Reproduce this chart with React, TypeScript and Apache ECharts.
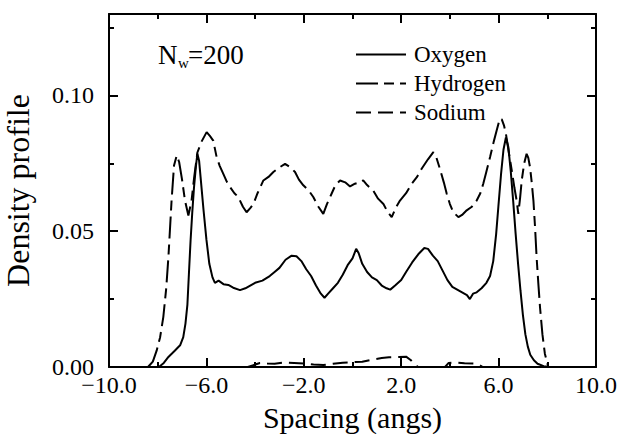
import React, { useEffect, useRef } from "react";
import * as echarts from "echarts";

const FONT = '"Liberation Serif", "Times New Roman", serif';

const seriesNames = ["Oxygen", "Hydrogen", "Sodium"];
const xTickLabels = ["\u221210.0", "\u22126.0", "\u22122.0", "2.0", "6.0", "10.0"];
const yTickLabels = ["0.00", "0.05", "0.10"];

const oxygen: number[][] = [
  [-7.95, 0], [-7.75, 0.0015], [-7.56, 0.0037], [-7.3, 0.006], [-7.08, 0.008], [-6.95, 0.011],
  [-6.86, 0.016], [-6.78, 0.023], [-6.72, 0.034], [-6.65, 0.0466], [-6.58, 0.057], [-6.51, 0.066],
  [-6.43, 0.074], [-6.37, 0.0785], [-6.3, 0.076], [-6.24, 0.070], [-6.12, 0.058], [-6.0, 0.047],
  [-5.88, 0.038], [-5.75, 0.033], [-5.65, 0.031], [-5.5, 0.0318], [-5.3, 0.0305], [-5.1, 0.0302],
  [-4.9, 0.0292], [-4.62, 0.0283], [-4.4, 0.029], [-4.2, 0.030], [-4.0, 0.031], [-3.7, 0.0318],
  [-3.4, 0.0335], [-3.2, 0.035], [-3.0, 0.0365], [-2.75, 0.0395], [-2.5, 0.041], [-2.3, 0.0408],
  [-2.1, 0.039], [-1.9, 0.036], [-1.7, 0.0335], [-1.5, 0.030], [-1.3, 0.027], [-1.15, 0.0255],
  [-1.0, 0.027], [-0.8, 0.029], [-0.6, 0.031], [-0.4, 0.034], [-0.2, 0.0375], [0.0, 0.040],
  [0.15, 0.0435], [0.25, 0.042], [0.4, 0.038], [0.6, 0.035], [0.8, 0.033], [1.0, 0.032],
  [1.2, 0.030], [1.4, 0.029], [1.55, 0.0285], [1.75, 0.030], [2.0, 0.032], [2.2, 0.035],
  [2.45, 0.0385], [2.7, 0.0415], [2.95, 0.0438], [3.1, 0.0435], [3.3, 0.041], [3.5, 0.039],
  [3.7, 0.0355], [3.9, 0.032], [4.1, 0.0295], [4.3, 0.0285], [4.5, 0.0275], [4.7, 0.0265],
  [4.82, 0.025], [4.95, 0.027], [5.1, 0.0275], [5.3, 0.029], [5.5, 0.031], [5.65, 0.0335],
  [5.78, 0.039], [5.9, 0.049], [5.99, 0.059], [6.1, 0.071], [6.2, 0.080], [6.3, 0.0845],
  [6.4, 0.081], [6.5, 0.072], [6.6, 0.061], [6.7, 0.049], [6.8, 0.038], [6.9, 0.028],
  [7.0, 0.019], [7.1, 0.012], [7.2, 0.0075], [7.3, 0.0045], [7.45, 0.0025], [7.6, 0.0012],
  [7.85, 0.0003], [8.1, 0],
];

const hydrogen: number[][] = [
  [-8.4, 0], [-8.2, 0.002], [-8.04, 0.0061], [-7.9, 0.011], [-7.77, 0.0184], [-7.65, 0.029],
  [-7.56, 0.0405], [-7.43, 0.0613], [-7.33, 0.0742], [-7.22, 0.0779], [-7.12, 0.0755], [-7.0, 0.069],
  [-6.88, 0.0613], [-6.74, 0.0558], [-6.61, 0.0613], [-6.5, 0.070], [-6.37, 0.079], [-6.2, 0.083],
  [-5.99, 0.0865], [-5.85, 0.085], [-5.72, 0.0834], [-5.58, 0.0773], [-5.45, 0.074], [-5.31, 0.0712],
  [-5.15, 0.068], [-5.03, 0.0663], [-4.85, 0.064], [-4.69, 0.0626], [-4.5, 0.059], [-4.35, 0.057],
  [-4.2, 0.0585], [-4.07, 0.060], [-3.9, 0.064], [-3.66, 0.0687], [-3.45, 0.070], [-3.25, 0.0718],
  [-3.0, 0.0735], [-2.77, 0.0748], [-2.55, 0.0735], [-2.36, 0.0718], [-2.2, 0.069], [-2.02, 0.0669],
  [-1.8, 0.065], [-1.61, 0.0626], [-1.4, 0.059], [-1.2, 0.0564], [-1.05, 0.060], [-0.86, 0.0638],
  [-0.7, 0.067], [-0.51, 0.0687], [-0.3, 0.068], [-0.1, 0.0665], [0.1, 0.0675], [0.3, 0.068],
  [0.44, 0.0687], [0.6, 0.067], [0.85, 0.065], [1.05, 0.062], [1.27, 0.060], [1.45, 0.057],
  [1.61, 0.0552], [1.8, 0.059], [1.95, 0.0613], [2.2, 0.064], [2.43, 0.0675], [2.65, 0.070],
  [2.84, 0.073], [3.1, 0.0765], [3.32, 0.0791], [3.45, 0.077], [3.59, 0.073], [3.75, 0.068],
  [3.87, 0.0638], [4.0, 0.060], [4.14, 0.057], [4.35, 0.0552], [4.5, 0.056], [4.69, 0.0577],
  [4.9, 0.059], [5.1, 0.0613], [5.25, 0.064], [5.37, 0.0675], [5.5, 0.072], [5.65, 0.0773],
  [5.8, 0.083], [5.92, 0.0871], [6.05, 0.0915], [6.13, 0.0912], [6.22, 0.089], [6.3, 0.0859],
  [6.42, 0.079], [6.54, 0.0724], [6.65, 0.066], [6.74, 0.0613], [6.81, 0.0564], [6.88, 0.062],
  [6.95, 0.0687], [7.05, 0.075], [7.15, 0.0785], [7.22, 0.077], [7.29, 0.0736], [7.36, 0.068],
  [7.43, 0.0613], [7.5, 0.051], [7.56, 0.0405], [7.63, 0.031], [7.7, 0.0221], [7.8, 0.012],
  [7.9, 0.0049], [8.04, 0],
];

const sodium: number[][] = [
  [-8.0, 0], [-4.3, 0], [-4.1, 0.0006], [-3.8, 0.0015], [-3.5, 0.0013], [-3.2, 0.0012],
  [-2.8, 0.0017], [-2.4, 0.0015], [-2.0, 0.0013], [-1.6, 0.0009], [-1.2, 0.0007], [-0.8, 0.0012],
  [-0.4, 0.0016], [0.0, 0.0018], [0.4, 0.0019], [0.8, 0.0027], [1.2, 0.0033], [1.5, 0.0036],
  [1.9, 0.0037], [2.2, 0.0038], [2.4, 0.0025], [2.55, 0.0008], [2.7, 0], [3.8, 0],
  [3.95, 0.0015], [4.2, 0.0017], [4.6, 0.0014], [5.0, 0.0013], [5.2, 0.0008], [5.35, 0], [8.0, 0],
];

const BLACK = "#000";

function axisCommon(extra: any) {
  return {
    type: "value",
    splitLine: { show: false },
    axisLine: { show: false, onZero: false, lineStyle: { color: BLACK, width: 2 } },
    axisTick: { show: true, inside: true, length: 5, lineStyle: { color: BLACK, width: 2 } },
    axisLabel: { show: false },
    ...extra,
  };
}

export default function App() {
  const ref = useRef<HTMLDivElement>(null);
  useEffect(() => {
    if (!ref.current) return;
    const chart = echarts.init(ref.current, undefined, { renderer: "svg" });
    const xBase = { min: -10, max: 10 };
    const yBase = { min: 0, max: 0.13 };
    const option: any = {
      animation: false,
      backgroundColor: "#fff",
      grid: { left: 109, right: 25, top: 14, bottom: 67, outerBoundsMode: "none" },
      xAxis: [
        axisCommon({
          ...xBase,
          interval: 4,
          position: "bottom",
          axisLine: { show: true, onZero: false, lineStyle: { color: BLACK, width: 2 } },
          axisTick: { show: true, inside: true, length: 9, lineStyle: { color: BLACK, width: 2 } },
          axisLabel: {
            show: true,
            margin: 6,
            fontFamily: FONT,
            fontSize: 24,
            color: BLACK,
            formatter: (v: number) => xTickLabels[Math.round((v + 10) / 4)] ?? "",
          },
          name: "Spacing (angs)",
          nameLocation: "middle",
          nameGap: 31,
          nameTextStyle: { fontFamily: FONT, fontSize: 30, color: BLACK, lineHeight: 32 },
        }),
        axisCommon({ ...xBase, interval: 2, position: "bottom" }),
        axisCommon({
          ...xBase,
          interval: 4,
          position: "top",
          axisLine: { show: true, onZero: false, lineStyle: { color: BLACK, width: 2 } },
          axisTick: { show: true, inside: true, length: 9, lineStyle: { color: BLACK, width: 2 } },
        }),
        axisCommon({ ...xBase, interval: 2, position: "top" }),
      ],
      yAxis: [
        axisCommon({
          ...yBase,
          interval: 0.05,
          position: "left",
          axisLine: { show: true, onZero: false, lineStyle: { color: BLACK, width: 2 } },
          axisTick: { show: true, inside: true, length: 9, lineStyle: { color: BLACK, width: 2 } },
          axisLabel: {
            show: true,
            margin: 15,
            fontFamily: FONT,
            fontSize: 24,
            color: BLACK,
            showMaxLabel: false,
            formatter: (v: number) => {
              const i = Math.round(v / 0.05);
              return Math.abs(v - i * 0.05) < 1e-6 ? yTickLabels[i] ?? "" : "";
            },
          },
          name: "Density profile",
          nameLocation: "middle",
          nameGap: 75,
          nameTextStyle: { fontFamily: FONT, fontSize: 32, color: BLACK },
        }),
        axisCommon({ ...yBase, interval: 0.025, position: "left" }),
        axisCommon({
          ...yBase,
          interval: 0.05,
          position: "right",
          axisLine: { show: true, onZero: false, lineStyle: { color: BLACK, width: 2 } },
          axisTick: { show: true, inside: true, length: 9, lineStyle: { color: BLACK, width: 2 } },
        }),
        axisCommon({ ...yBase, interval: 0.025, position: "right" }),
      ],
      legend: {
        data: seriesNames,
        orient: "vertical",
        left: 350,
        top: 38,
        itemWidth: 50,
        itemHeight: 14,
        itemGap: 6,
        itemStyle: { opacity: 0, borderWidth: 0 },
        textStyle: { fontFamily: FONT, fontSize: 23, color: BLACK, padding: [0, 0, 0, 3] },
      },
      graphic: [
        { type: "text", x: 158, y: 55, style: { text: "N", font: `27px ${FONT}`, fill: BLACK, verticalAlign: "middle" } },
        { type: "text", x: 178, y: 63, style: { text: "w", font: `15px ${FONT}`, fill: BLACK, verticalAlign: "middle" } },
        { type: "text", x: 188, y: 55, style: { text: "=200", font: `27px ${FONT}`, fill: BLACK, verticalAlign: "middle" } },
      ],
      series: [
        {
          name: seriesNames[0],
          type: "line",
          data: oxygen,
          symbol: "none",
          lineStyle: { color: BLACK, width: 2, type: "solid" },
          itemStyle: { color: BLACK },
        },
        {
          name: seriesNames[1],
          type: "line",
          data: hydrogen,
          symbol: "none",
          lineStyle: { color: BLACK, width: 2, type: [22, 6, 10, 6] },
          itemStyle: { color: BLACK },
        },
        {
          name: seriesNames[2],
          type: "line",
          data: sodium,
          symbol: "none",
          lineStyle: { color: BLACK, width: 2, type: [15, 7] },
          itemStyle: { color: BLACK },
        },
      ],
    };
    chart.setOption(option);
    return () => chart.dispose();
  }, []);
  return <div ref={ref} style={{ width: 621, height: 434, position: "absolute", left: 0, top: 0 }} />;
}
